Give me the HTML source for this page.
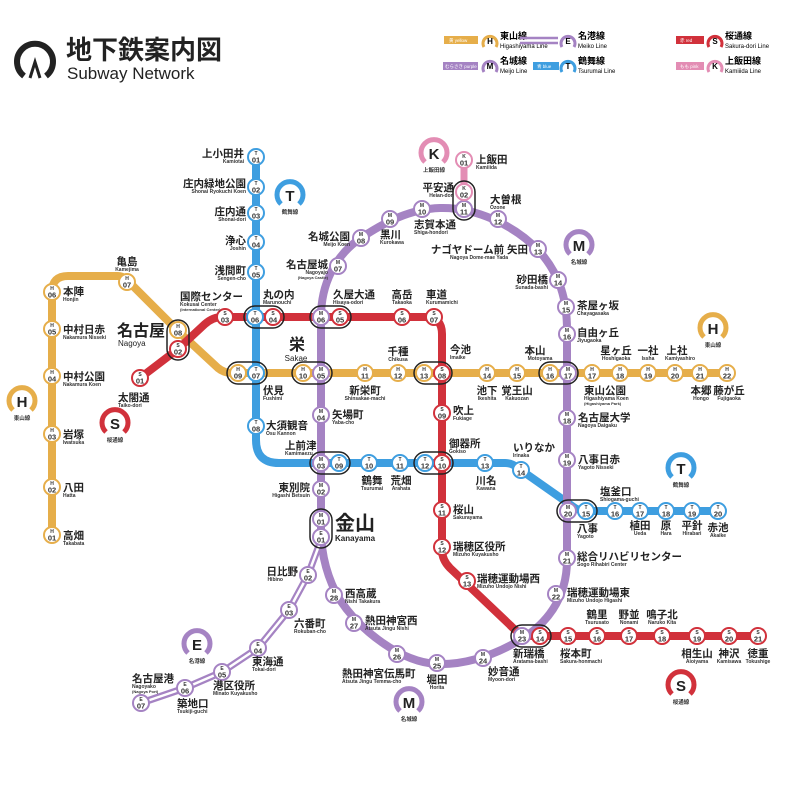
<!DOCTYPE html>
<html><head><meta charset="utf-8"><style>
html,body{margin:0;padding:0;background:#fff}
svg{display:block;font-family:"Liberation Sans","Noto Sans CJK JP",sans-serif}
.st circle{fill:#fff;stroke-width:2}
.h circle{stroke:#e6ae4a}.s circle{stroke:#d1313b}.t circle{stroke:#3e9ee0}.m circle{stroke:#a583c3}.e circle{stroke:#a583c3}.k circle{stroke:#e38db4}
.a{font-size:5px;text-anchor:middle;fill:#333;font-weight:bold}
.b{font-size:7.5px;text-anchor:middle;fill:#333;font-weight:bold}
.j{font-size:10.5px;font-weight:bold;fill:#222}
.r{font-size:5px;fill:#333;font-weight:bold}
.c{text-anchor:middle}.e2{text-anchor:end}
.cap{fill:none;stroke:#222;stroke-width:1.5}
.sym{fill:none;stroke-width:5}
.sl{font-size:15px;font-weight:bold;text-anchor:middle;fill:#222}
.sn{font-size:5.5px;font-weight:bold;text-anchor:middle;fill:#333}
</style></head><body>
<svg width="800" height="796" viewBox="0 0 800 796" xmlns="http://www.w3.org/2000/svg">
<path d="M24,76 A18,18 0 1 1 46,76" fill="none" stroke="#222" stroke-width="6"/>
<path d="M30,78 L35,62 L40,78" fill="none" stroke="#222" stroke-width="3"/>
<text x="66" y="59" style="font-size:26px;font-weight:bold;fill:#222">地下鉄案内図</text>
<text x="67" y="79" style="font-size:17px;fill:#222">Subway Network</text>
<rect x="444" y="36" width="34" height="8" fill="#e6ae4a"/><text x="449" y="42" style="font-size:4.5px;fill:#fff">黄 yellow</text>
<path d="M484,47 A7,7 0 1 1 496,47" class="sym" stroke="#e6ae4a" style="stroke-width:3"/><text x="490" y="44" style="font-size:8px;font-weight:bold;text-anchor:middle">H</text>
<text x="500" y="39" style="font-size:9px;font-weight:bold">東山線</text><text x="500" y="48" style="font-size:6px">Higashiyama Line</text>
<line x1="520" y1="38" x2="558" y2="38" stroke="#a583c3" stroke-width="2.5"/><line x1="520" y1="43" x2="558" y2="43" stroke="#a583c3" stroke-width="2.5"/>
<path d="M562,47 A7,7 0 1 1 574,47" class="sym" stroke="#a583c3" style="stroke-width:3"/><text x="568" y="44" style="font-size:8px;font-weight:bold;text-anchor:middle">E</text>
<text x="578" y="39" style="font-size:9px;font-weight:bold">名港線</text><text x="578" y="48" style="font-size:6px">Meiko Line</text>
<rect x="676" y="36" width="28" height="8" fill="#d1313b"/><text x="680" y="42" style="font-size:4.5px;fill:#fff">赤 red</text>
<path d="M709,47 A7,7 0 1 1 721,47" class="sym" stroke="#d1313b" style="stroke-width:3"/><text x="715" y="44" style="font-size:8px;font-weight:bold;text-anchor:middle">S</text>
<text x="725" y="39" style="font-size:9px;font-weight:bold">桜通線</text><text x="725" y="48" style="font-size:6px">Sakura-dori Line</text>
<rect x="443" y="62" width="35" height="8" fill="#a583c3"/><text x="445" y="68" style="font-size:4.5px;fill:#fff">むらさき purple</text>
<path d="M484,72 A7,7 0 1 1 496,72" class="sym" stroke="#a583c3" style="stroke-width:3"/><text x="490" y="69" style="font-size:8px;font-weight:bold;text-anchor:middle">M</text>
<text x="500" y="64" style="font-size:9px;font-weight:bold">名城線</text><text x="500" y="73" style="font-size:6px">Meijo Line</text>
<rect x="533" y="62" width="26" height="8" fill="#3e9ee0"/><text x="537" y="68" style="font-size:4.5px;fill:#fff">青 blue</text>
<path d="M562,72 A7,7 0 1 1 574,72" class="sym" stroke="#3e9ee0" style="stroke-width:3"/><text x="568" y="69" style="font-size:8px;font-weight:bold;text-anchor:middle">T</text>
<text x="578" y="64" style="font-size:9px;font-weight:bold">鶴舞線</text><text x="578" y="73" style="font-size:6px">Tsurumai Line</text>
<rect x="676" y="62" width="28" height="8" fill="#e38db4"/><text x="680" y="68" style="font-size:4.5px;fill:#fff">もも pink</text>
<path d="M709,72 A7,7 0 1 1 721,72" class="sym" stroke="#e38db4" style="stroke-width:3"/><text x="715" y="69" style="font-size:8px;font-weight:bold;text-anchor:middle">K</text>
<text x="725" y="64" style="font-size:9px;font-weight:bold">上飯田線</text><text x="725" y="73" style="font-size:6px">Kamiiida Line</text>

<path d="M52,540 V292 Q52,276 68,276 H118 Q124,276 130,283 L178,331 L218,368 Q224,373 232,373 H730" fill="none" stroke="#e6ae4a" stroke-width="8"/>
<path d="M140,378 L178,349 L205,324 Q213,317 222,317 H425 Q442,317 442,334 V550 Q442,560 450,568 L510,625 Q520,636 532,636 H758" fill="none" stroke="#d1313b" stroke-width="8"/>
<path d="M256,157 V440 Q256,463 279,463 H505 Q512,463 518,468 L575,508 Q580,511 588,511 H718" fill="none" stroke="#3e9ee0" stroke-width="8"/>
<path d="M321,530 V317 C321,285 335,255 361,238 C385,222 410,209 440,208 C475,207 515,225 540,252 C560,275 567,300 567,330 V560 C567,600 545,625 520,640 C490,658 460,665 437,664 C400,662 360,630 340,600 C328,580 321,555 321,530" fill="none" stroke="#a583c3" stroke-width="8"/>
<polyline points="321,540 308,575 289,610 258,648 222,672 185,688 141,703" fill="none" stroke="#a583c3" stroke-width="7" stroke-linejoin="round"/>
<polyline points="321,540 308,575 289,610 258,648 222,672 185,688 141,703" fill="none" stroke="#fff" stroke-width="2.5" stroke-linejoin="round"/>
<path d="M464,160 V200" stroke="#e38db4" stroke-width="7"/>

<rect class="cap" x="167" y="320" width="22" height="40" rx="11"/>
<rect class="cap" x="244" y="306" width="40" height="22" rx="11"/>
<rect class="cap" x="310" y="306" width="41" height="22" rx="11"/>
<rect class="cap" x="227" y="362" width="40" height="22" rx="11"/>
<rect class="cap" x="292" y="362" width="40" height="22" rx="11"/>
<rect class="cap" x="414" y="362" width="38" height="22" rx="11"/>
<rect class="cap" x="539" y="362" width="39" height="22" rx="11"/>
<rect class="cap" x="310" y="452" width="40" height="22" rx="11"/>
<rect class="cap" x="414" y="452" width="39" height="22" rx="11"/>
<rect class="cap" x="557" y="500" width="40" height="22" rx="11"/>
<rect class="cap" x="511" y="625" width="40" height="22" rx="11"/>
<rect class="cap" x="310" y="509" width="22" height="39" rx="11"/>
<rect class="cap" x="453" y="181" width="22" height="39" rx="11"/>

<g class="st h">
<g transform="translate(52,535)"><circle r="8"/><text y="-2" class="a">H</text><text y="5.5" class="b">01</text></g>
<g transform="translate(52,487)"><circle r="8"/><text y="-2" class="a">H</text><text y="5.5" class="b">02</text></g>
<g transform="translate(52,434)"><circle r="8"/><text y="-2" class="a">H</text><text y="5.5" class="b">03</text></g>
<g transform="translate(52,376)"><circle r="8"/><text y="-2" class="a">H</text><text y="5.5" class="b">04</text></g>
<g transform="translate(52,329)"><circle r="8"/><text y="-2" class="a">H</text><text y="5.5" class="b">05</text></g>
<g transform="translate(52,292)"><circle r="8"/><text y="-2" class="a">H</text><text y="5.5" class="b">06</text></g>
<g transform="translate(127,282)"><circle r="8"/><text y="-2" class="a">H</text><text y="5.5" class="b">07</text></g>
<g transform="translate(178,330)"><circle r="8"/><text y="-2" class="a">H</text><text y="5.5" class="b">08</text></g>
<g transform="translate(238,373)"><circle r="8"/><text y="-2" class="a">H</text><text y="5.5" class="b">09</text></g>
<g transform="translate(303,373)"><circle r="8"/><text y="-2" class="a">H</text><text y="5.5" class="b">10</text></g>
<g transform="translate(365,373)"><circle r="8"/><text y="-2" class="a">H</text><text y="5.5" class="b">11</text></g>
<g transform="translate(398,373)"><circle r="8"/><text y="-2" class="a">H</text><text y="5.5" class="b">12</text></g>
<g transform="translate(424,373)"><circle r="8"/><text y="-2" class="a">H</text><text y="5.5" class="b">13</text></g>
<g transform="translate(487,373)"><circle r="8"/><text y="-2" class="a">H</text><text y="5.5" class="b">14</text></g>
<g transform="translate(517,373)"><circle r="8"/><text y="-2" class="a">H</text><text y="5.5" class="b">15</text></g>
<g transform="translate(550,373)"><circle r="8"/><text y="-2" class="a">H</text><text y="5.5" class="b">16</text></g>
<g transform="translate(592,373)"><circle r="8"/><text y="-2" class="a">H</text><text y="5.5" class="b">17</text></g>
<g transform="translate(620,373)"><circle r="8"/><text y="-2" class="a">H</text><text y="5.5" class="b">18</text></g>
<g transform="translate(648,373)"><circle r="8"/><text y="-2" class="a">H</text><text y="5.5" class="b">19</text></g>
<g transform="translate(675,373)"><circle r="8"/><text y="-2" class="a">H</text><text y="5.5" class="b">20</text></g>
<g transform="translate(700,373)"><circle r="8"/><text y="-2" class="a">H</text><text y="5.5" class="b">21</text></g>
<g transform="translate(727,373)"><circle r="8"/><text y="-2" class="a">H</text><text y="5.5" class="b">22</text></g>
</g>
<g class="st s">
<g transform="translate(140,378)"><circle r="8"/><text y="-2" class="a">S</text><text y="5.5" class="b">01</text></g>
<g transform="translate(178,349)"><circle r="8"/><text y="-2" class="a">S</text><text y="5.5" class="b">02</text></g>
<g transform="translate(225,317)"><circle r="8"/><text y="-2" class="a">S</text><text y="5.5" class="b">03</text></g>
<g transform="translate(273,317)"><circle r="8"/><text y="-2" class="a">S</text><text y="5.5" class="b">04</text></g>
<g transform="translate(340,317)"><circle r="8"/><text y="-2" class="a">S</text><text y="5.5" class="b">05</text></g>
<g transform="translate(402,317)"><circle r="8"/><text y="-2" class="a">S</text><text y="5.5" class="b">06</text></g>
<g transform="translate(434,317)"><circle r="8"/><text y="-2" class="a">S</text><text y="5.5" class="b">07</text></g>
<g transform="translate(442,373)"><circle r="8"/><text y="-2" class="a">S</text><text y="5.5" class="b">08</text></g>
<g transform="translate(442,413)"><circle r="8"/><text y="-2" class="a">S</text><text y="5.5" class="b">09</text></g>
<g transform="translate(442,463)"><circle r="8"/><text y="-2" class="a">S</text><text y="5.5" class="b">10</text></g>
<g transform="translate(442,510)"><circle r="8"/><text y="-2" class="a">S</text><text y="5.5" class="b">11</text></g>
<g transform="translate(442,547)"><circle r="8"/><text y="-2" class="a">S</text><text y="5.5" class="b">12</text></g>
<g transform="translate(467,581)"><circle r="8"/><text y="-2" class="a">S</text><text y="5.5" class="b">13</text></g>
<g transform="translate(540,636)"><circle r="8"/><text y="-2" class="a">S</text><text y="5.5" class="b">14</text></g>
<g transform="translate(568,636)"><circle r="8"/><text y="-2" class="a">S</text><text y="5.5" class="b">15</text></g>
<g transform="translate(597,636)"><circle r="8"/><text y="-2" class="a">S</text><text y="5.5" class="b">16</text></g>
<g transform="translate(629,636)"><circle r="8"/><text y="-2" class="a">S</text><text y="5.5" class="b">17</text></g>
<g transform="translate(662,636)"><circle r="8"/><text y="-2" class="a">S</text><text y="5.5" class="b">18</text></g>
<g transform="translate(697,636)"><circle r="8"/><text y="-2" class="a">S</text><text y="5.5" class="b">19</text></g>
<g transform="translate(729,636)"><circle r="8"/><text y="-2" class="a">S</text><text y="5.5" class="b">20</text></g>
<g transform="translate(758,636)"><circle r="8"/><text y="-2" class="a">S</text><text y="5.5" class="b">21</text></g>
</g>
<g class="st t">
<g transform="translate(256,157)"><circle r="8"/><text y="-2" class="a">T</text><text y="5.5" class="b">01</text></g>
<g transform="translate(256,187)"><circle r="8"/><text y="-2" class="a">T</text><text y="5.5" class="b">02</text></g>
<g transform="translate(256,213)"><circle r="8"/><text y="-2" class="a">T</text><text y="5.5" class="b">03</text></g>
<g transform="translate(256,242)"><circle r="8"/><text y="-2" class="a">T</text><text y="5.5" class="b">04</text></g>
<g transform="translate(256,272)"><circle r="8"/><text y="-2" class="a">T</text><text y="5.5" class="b">05</text></g>
<g transform="translate(255,317)"><circle r="8"/><text y="-2" class="a">T</text><text y="5.5" class="b">06</text></g>
<g transform="translate(256,373)"><circle r="8"/><text y="-2" class="a">T</text><text y="5.5" class="b">07</text></g>
<g transform="translate(256,426)"><circle r="8"/><text y="-2" class="a">T</text><text y="5.5" class="b">08</text></g>
<g transform="translate(339,463)"><circle r="8"/><text y="-2" class="a">T</text><text y="5.5" class="b">09</text></g>
<g transform="translate(369,463)"><circle r="8"/><text y="-2" class="a">T</text><text y="5.5" class="b">10</text></g>
<g transform="translate(400,463)"><circle r="8"/><text y="-2" class="a">T</text><text y="5.5" class="b">11</text></g>
<g transform="translate(425,463)"><circle r="8"/><text y="-2" class="a">T</text><text y="5.5" class="b">12</text></g>
<g transform="translate(485,463)"><circle r="8"/><text y="-2" class="a">T</text><text y="5.5" class="b">13</text></g>
<g transform="translate(521,470)"><circle r="8"/><text y="-2" class="a">T</text><text y="5.5" class="b">14</text></g>
<g transform="translate(586,511)"><circle r="8"/><text y="-2" class="a">T</text><text y="5.5" class="b">15</text></g>
<g transform="translate(615,511)"><circle r="8"/><text y="-2" class="a">T</text><text y="5.5" class="b">16</text></g>
<g transform="translate(640,511)"><circle r="8"/><text y="-2" class="a">T</text><text y="5.5" class="b">17</text></g>
<g transform="translate(666,511)"><circle r="8"/><text y="-2" class="a">T</text><text y="5.5" class="b">18</text></g>
<g transform="translate(692,511)"><circle r="8"/><text y="-2" class="a">T</text><text y="5.5" class="b">19</text></g>
<g transform="translate(718,511)"><circle r="8"/><text y="-2" class="a">T</text><text y="5.5" class="b">20</text></g>
</g>
<g class="st m">
<g transform="translate(321,519)"><circle r="8"/><text y="-2" class="a">M</text><text y="5.5" class="b">01</text></g>
<g transform="translate(321,489)"><circle r="8"/><text y="-2" class="a">M</text><text y="5.5" class="b">02</text></g>
<g transform="translate(321,463)"><circle r="8"/><text y="-2" class="a">M</text><text y="5.5" class="b">03</text></g>
<g transform="translate(321,415)"><circle r="8"/><text y="-2" class="a">M</text><text y="5.5" class="b">04</text></g>
<g transform="translate(321,373)"><circle r="8"/><text y="-2" class="a">M</text><text y="5.5" class="b">05</text></g>
<g transform="translate(321,317)"><circle r="8"/><text y="-2" class="a">M</text><text y="5.5" class="b">06</text></g>
<g transform="translate(338,266)"><circle r="8"/><text y="-2" class="a">M</text><text y="5.5" class="b">07</text></g>
<g transform="translate(361,238)"><circle r="8"/><text y="-2" class="a">M</text><text y="5.5" class="b">08</text></g>
<g transform="translate(390,219)"><circle r="8"/><text y="-2" class="a">M</text><text y="5.5" class="b">09</text></g>
<g transform="translate(422,209)"><circle r="8"/><text y="-2" class="a">M</text><text y="5.5" class="b">10</text></g>
<g transform="translate(464,209)"><circle r="8"/><text y="-2" class="a">M</text><text y="5.5" class="b">11</text></g>
<g transform="translate(498,219)"><circle r="8"/><text y="-2" class="a">M</text><text y="5.5" class="b">12</text></g>
<g transform="translate(538,249)"><circle r="8"/><text y="-2" class="a">M</text><text y="5.5" class="b">13</text></g>
<g transform="translate(558,280)"><circle r="8"/><text y="-2" class="a">M</text><text y="5.5" class="b">14</text></g>
<g transform="translate(566,307)"><circle r="8"/><text y="-2" class="a">M</text><text y="5.5" class="b">15</text></g>
<g transform="translate(567,334)"><circle r="8"/><text y="-2" class="a">M</text><text y="5.5" class="b">16</text></g>
<g transform="translate(568,373)"><circle r="8"/><text y="-2" class="a">M</text><text y="5.5" class="b">17</text></g>
<g transform="translate(567,418)"><circle r="8"/><text y="-2" class="a">M</text><text y="5.5" class="b">18</text></g>
<g transform="translate(567,460)"><circle r="8"/><text y="-2" class="a">M</text><text y="5.5" class="b">19</text></g>
<g transform="translate(568,511)"><circle r="8"/><text y="-2" class="a">M</text><text y="5.5" class="b">20</text></g>
<g transform="translate(567,558)"><circle r="8"/><text y="-2" class="a">M</text><text y="5.5" class="b">21</text></g>
<g transform="translate(556,594)"><circle r="8"/><text y="-2" class="a">M</text><text y="5.5" class="b">22</text></g>
<g transform="translate(522,636)"><circle r="8"/><text y="-2" class="a">M</text><text y="5.5" class="b">23</text></g>
<g transform="translate(483,658)"><circle r="8"/><text y="-2" class="a">M</text><text y="5.5" class="b">24</text></g>
<g transform="translate(437,663)"><circle r="8"/><text y="-2" class="a">M</text><text y="5.5" class="b">25</text></g>
<g transform="translate(397,654)"><circle r="8"/><text y="-2" class="a">M</text><text y="5.5" class="b">26</text></g>
<g transform="translate(354,623)"><circle r="8"/><text y="-2" class="a">M</text><text y="5.5" class="b">27</text></g>
<g transform="translate(334,595)"><circle r="8"/><text y="-2" class="a">M</text><text y="5.5" class="b">28</text></g>
</g>
<g class="st e">
<g transform="translate(321,537)"><circle r="8"/><text y="-2" class="a">E</text><text y="5.5" class="b">01</text></g>
<g transform="translate(308,575)"><circle r="8"/><text y="-2" class="a">E</text><text y="5.5" class="b">02</text></g>
<g transform="translate(289,610)"><circle r="8"/><text y="-2" class="a">E</text><text y="5.5" class="b">03</text></g>
<g transform="translate(258,648)"><circle r="8"/><text y="-2" class="a">E</text><text y="5.5" class="b">04</text></g>
<g transform="translate(222,672)"><circle r="8"/><text y="-2" class="a">E</text><text y="5.5" class="b">05</text></g>
<g transform="translate(185,688)"><circle r="8"/><text y="-2" class="a">E</text><text y="5.5" class="b">06</text></g>
<g transform="translate(141,703)"><circle r="8"/><text y="-2" class="a">E</text><text y="5.5" class="b">07</text></g>
</g>
<g class="st k">
<g transform="translate(464,160)"><circle r="8"/><text y="-2" class="a">K</text><text y="5.5" class="b">01</text></g>
<g transform="translate(464,192)"><circle r="8"/><text y="-2" class="a">K</text><text y="5.5" class="b">02</text></g>
</g>

<g>
<path d="M281,204 A13,13 0 1 1 299,204" class="sym" stroke="#3e9ee0"/><text x="290" y="201" class="sl">T</text><text x="290" y="214" class="sn">鶴舞線</text>
<path d="M425,162 A13,13 0 1 1 443,162" class="sym" stroke="#e38db4"/><text x="434" y="159" class="sl">K</text><text x="434" y="172" class="sn">上飯田線</text>
<path d="M570,254 A13,13 0 1 1 588,254" class="sym" stroke="#a583c3"/><text x="579" y="251" class="sl">M</text><text x="579" y="264" class="sn">名城線</text>
<path d="M704,337 A13,13 0 1 1 722,337" class="sym" stroke="#e6ae4a"/><text x="713" y="334" class="sl">H</text><text x="713" y="347" class="sn">東山線</text>
<path d="M13,410 A13,13 0 1 1 31,410" class="sym" stroke="#e6ae4a"/><text x="22" y="407" class="sl">H</text><text x="22" y="420" class="sn">東山線</text>
<path d="M106,432 A13,13 0 1 1 124,432" class="sym" stroke="#d1313b"/><text x="115" y="429" class="sl">S</text><text x="115" y="442" class="sn">桜通線</text>
<path d="M672,477 A13,13 0 1 1 690,477" class="sym" stroke="#3e9ee0"/><text x="681" y="474" class="sl">T</text><text x="681" y="487" class="sn">鶴舞線</text>
<path d="M672,694 A13,13 0 1 1 690,694" class="sym" stroke="#d1313b"/><text x="681" y="691" class="sl">S</text><text x="681" y="704" class="sn">桜通線</text>
<path d="M188,653 A13,13 0 1 1 206,653" class="sym" stroke="#a583c3"/><text x="197" y="650" class="sl">E</text><text x="197" y="663" class="sn">名港線</text>
<path d="M400,711 A13,13 0 1 1 418,711" class="sym" stroke="#a583c3"/><text x="409" y="708" class="sl">M</text><text x="409" y="721" class="sn">名城線</text>
</g>

<g>
<text x="63" y="295" class="j">本陣</text><text x="63" y="301" class="r">Honjin</text>
<text x="63" y="333" class="j">中村日赤</text><text x="63" y="339" class="r">Nakamura Nisseki</text>
<text x="63" y="380" class="j">中村公園</text><text x="63" y="386" class="r">Nakamura Koen</text>
<text x="63" y="438" class="j">岩塚</text><text x="63" y="444" class="r">Iwatsuka</text>
<text x="63" y="491" class="j">八田</text><text x="63" y="497" class="r">Hatta</text>
<text x="63" y="539" class="j">高畑</text><text x="63" y="545" class="r">Takabata</text>
<text x="127" y="265" class="j c">亀島</text><text x="127" y="271" class="r c">Kamejima</text>
<text x="117" y="336" style="font-size:16px;font-weight:bold;fill:#222">名古屋</text><text x="118" y="346" style="font-size:8px;fill:#222">Nagoya</text>
<text x="118" y="401" class="j">太閤通</text><text x="118" y="407" class="r">Taiko-dori</text>
<text x="180" y="300" class="j">国際センター</text><text x="180" y="306" class="r">Kokusai Center</text><text x="180" y="311" class="r" style="font-size:4px">(International Center)</text>
<text x="244" y="157" class="j e2">上小田井</text><text x="244" y="163" class="r e2">Kamiotai</text>
<text x="246" y="187" class="j e2">庄内緑地公園</text><text x="246" y="193" class="r e2">Shonai Ryokuchi Koen</text>
<text x="246" y="215" class="j e2">庄内通</text><text x="246" y="221" class="r e2">Shonai-dori</text>
<text x="246" y="244" class="j e2">浄心</text><text x="246" y="250" class="r e2">Joshin</text>
<text x="246" y="274" class="j e2">浅間町</text><text x="246" y="280" class="r e2">Sengen-cho</text>
<text x="263" y="298" class="j">丸の内</text><text x="263" y="304" class="r">Marunouchi</text>
<text x="333" y="298" class="j">久屋大通</text><text x="333" y="304" class="r">Hisaya-odori</text>
<text x="402" y="298" class="j c">高岳</text><text x="402" y="304" class="r c">Takaoka</text>
<text x="426" y="298" class="j">車道</text><text x="426" y="304" class="r">Kurumamichi</text>
<text x="328" y="268" class="j e2">名古屋城</text><text x="328" y="274" class="r e2">Nagoyajo</text><text x="328" y="279" class="r e2" style="font-size:4px">(Nagoya Castle)</text>
<text x="350" y="240" class="j e2">名城公園</text><text x="350" y="246" class="r e2">Meijo Koen</text>
<text x="380" y="238" class="j">黒川</text><text x="380" y="244" class="r">Kurokawa</text>
<text x="414" y="228" class="j">志賀本通</text><text x="414" y="234" class="r">Shiga-hondori</text>
<text x="454" y="191" class="j e2">平安通</text><text x="454" y="197" class="r e2">Heian-dori</text>
<text x="476" y="163" class="j">上飯田</text><text x="476" y="169" class="r">Kamiiida</text>
<text x="490" y="203" class="j">大曽根</text><text x="490" y="209" class="r">Ozone</text>
<text x="528" y="253" class="j e2">ナゴヤドーム前 矢田</text><text x="508" y="259" class="r e2">Nagoya Dome-mae Yada</text>
<text x="548" y="283" class="j e2">砂田橋</text><text x="548" y="289" class="r e2">Sunada-bashi</text>
<text x="577" y="309" class="j">茶屋ヶ坂</text><text x="577" y="315" class="r">Chayagasaka</text>
<text x="577" y="336" class="j">自由ヶ丘</text><text x="577" y="342" class="r">Jiyugaoka</text>
<text x="535" y="354" class="j c">本山</text><text x="540" y="360" class="r c">Motoyama</text>
<text x="616" y="354" class="j c">星ヶ丘</text><text x="616" y="360" class="r c">Hoshigaoka</text>
<text x="648" y="354" class="j c">一社</text><text x="648" y="360" class="r c">Issha</text>
<text x="677" y="354" class="j c">上社</text><text x="680" y="360" class="r c">Kamiyashiro</text>
<text x="450" y="353" class="j">今池</text><text x="450" y="359" class="r">Imaike</text>
<text x="398" y="355" class="j c">千種</text><text x="398" y="361" class="r c">Chikusa</text>
<text x="297" y="350" style="font-size:16px;font-weight:bold;fill:#222;text-anchor:middle">栄</text><text x="296" y="361" style="font-size:8px;fill:#222;text-anchor:middle">Sakae</text>
<text x="263" y="394" class="j">伏見</text><text x="263" y="400" class="r">Fushimi</text>
<text x="365" y="394" class="j c">新栄町</text><text x="365" y="400" class="r c">Shinsakae-machi</text>
<text x="487" y="394" class="j c">池下</text><text x="487" y="400" class="r c">Ikeshita</text>
<text x="517" y="394" class="j c">覚王山</text><text x="517" y="400" class="r c">Kakuozan</text>
<text x="584" y="394" class="j">東山公園</text><text x="584" y="400" class="r">Higashiyama Koen</text><text x="584" y="405" class="r" style="font-size:4px">(Higashiyama Park)</text>
<text x="701" y="394" class="j c">本郷</text><text x="701" y="400" class="r c">Hongo</text>
<text x="729" y="394" class="j c">藤が丘</text><text x="729" y="400" class="r c">Fujigaoka</text>
<text x="453" y="414" class="j">吹上</text><text x="453" y="420" class="r">Fukiage</text>
<text x="578" y="421" class="j">名古屋大学</text><text x="578" y="427" class="r">Nagoya Daigaku</text>
<text x="578" y="463" class="j">八事日赤</text><text x="578" y="469" class="r">Yagoto Nisseki</text>
<text x="332" y="418" class="j">矢場町</text><text x="332" y="424" class="r">Yaba-cho</text>
<text x="266" y="429" class="j">大須観音</text><text x="266" y="435" class="r">Osu Kannon</text>
<text x="285" y="449" class="j">上前津</text><text x="285" y="455" class="r">Kamimaezu</text>
<text x="449" y="447" class="j">御器所</text><text x="449" y="453" class="r">Gokiso</text>
<text x="513" y="451" class="j">いりなか</text><text x="513" y="457" class="r">Irinaka</text>
<text x="372" y="484" class="j c">鶴舞</text><text x="372" y="490" class="r c">Tsurumai</text>
<text x="401" y="484" class="j c">荒畑</text><text x="401" y="490" class="r c">Arahata</text>
<text x="486" y="484" class="j c">川名</text><text x="486" y="490" class="r c">Kawana</text>
<text x="310" y="491" class="j e2">東別院</text><text x="310" y="497" class="r e2">Higashi Betsuin</text>
<text x="335" y="530" style="font-size:20px;font-weight:bold;fill:#222">金山</text><text x="335" y="541" style="font-size:8px;font-weight:bold;fill:#222">Kanayama</text>
<text x="453" y="513" class="j">桜山</text><text x="453" y="519" class="r">Sakurayama</text>
<text x="453" y="550" class="j">瑞穂区役所</text><text x="453" y="556" class="r">Mizuho Kuyakusho</text>
<text x="477" y="582" class="j">瑞穂運動場西</text><text x="477" y="588" class="r">Mizuho Undojo Nishi</text>
<text x="600" y="495" class="j">塩釜口</text><text x="600" y="501" class="r">Shiogama-guchi</text>
<text x="640" y="529" class="j c">植田</text><text x="640" y="535" class="r c">Ueda</text>
<text x="666" y="529" class="j c">原</text><text x="666" y="535" class="r c">Hara</text>
<text x="692" y="529" class="j c">平針</text><text x="692" y="535" class="r c">Hirabari</text>
<text x="718" y="531" class="j c">赤池</text><text x="718" y="537" class="r c">Akaike</text>
<text x="577" y="532" class="j">八事</text><text x="577" y="538" class="r">Yagoto</text>
<text x="577" y="560" class="j">総合リハビリセンター</text><text x="577" y="566" class="r">Sogo Rihabiri Center</text>
<text x="567" y="596" class="j">瑞穂運動場東</text><text x="567" y="602" class="r">Mizuho Undojo Higashi</text>
<text x="597" y="618" class="j c">鶴里</text><text x="597" y="624" class="r c">Tsurusato</text>
<text x="629" y="618" class="j c">野並</text><text x="629" y="624" class="r c">Nonami</text>
<text x="662" y="618" class="j c">鳴子北</text><text x="662" y="624" class="r c">Naruko Kita</text>
<text x="513" y="657" class="j">新瑞橋</text><text x="513" y="663" class="r">Aratama-bashi</text>
<text x="560" y="657" class="j">桜本町</text><text x="560" y="663" class="r">Sakura-honmachi</text>
<text x="697" y="657" class="j c">相生山</text><text x="697" y="663" class="r c">Aioiyama</text>
<text x="729" y="657" class="j c">神沢</text><text x="729" y="663" class="r c">Kamisawa</text>
<text x="758" y="657" class="j c">徳重</text><text x="758" y="663" class="r c">Tokushige</text>
<text x="488" y="675" class="j">妙音通</text><text x="488" y="681" class="r">Myoon-dori</text>
<text x="437" y="683" class="j c">堀田</text><text x="437" y="689" class="r c">Horita</text>
<text x="342" y="677" class="j">熱田神宮伝馬町</text><text x="342" y="683" class="r">Atsuta Jingu Temma-cho</text>
<text x="365" y="624" class="j">熱田神宮西</text><text x="365" y="630" class="r">Atsuta Jingu Nishi</text>
<text x="345" y="597" class="j">西高蔵</text><text x="345" y="603" class="r">Nishi Takakura</text>
<text x="298" y="575" class="j e2">日比野</text><text x="283" y="581" class="r e2">Hibino</text>
<text x="294" y="627" class="j">六番町</text><text x="294" y="633" class="r">Rokuban-cho</text>
<text x="252" y="665" class="j">東海通</text><text x="252" y="671" class="r">Tokai-dori</text>
<text x="213" y="689" class="j">港区役所</text><text x="213" y="695" class="r">Minato Kuyakusho</text>
<text x="177" y="707" class="j">築地口</text><text x="177" y="713" class="r">Tsukiji-guchi</text>
<text x="132" y="682" class="j">名古屋港</text><text x="132" y="688" class="r">Nagoyako</text><text x="132" y="693" class="r" style="font-size:4px">(Nagoya Port)</text>
</g>
</svg>
</body></html>
